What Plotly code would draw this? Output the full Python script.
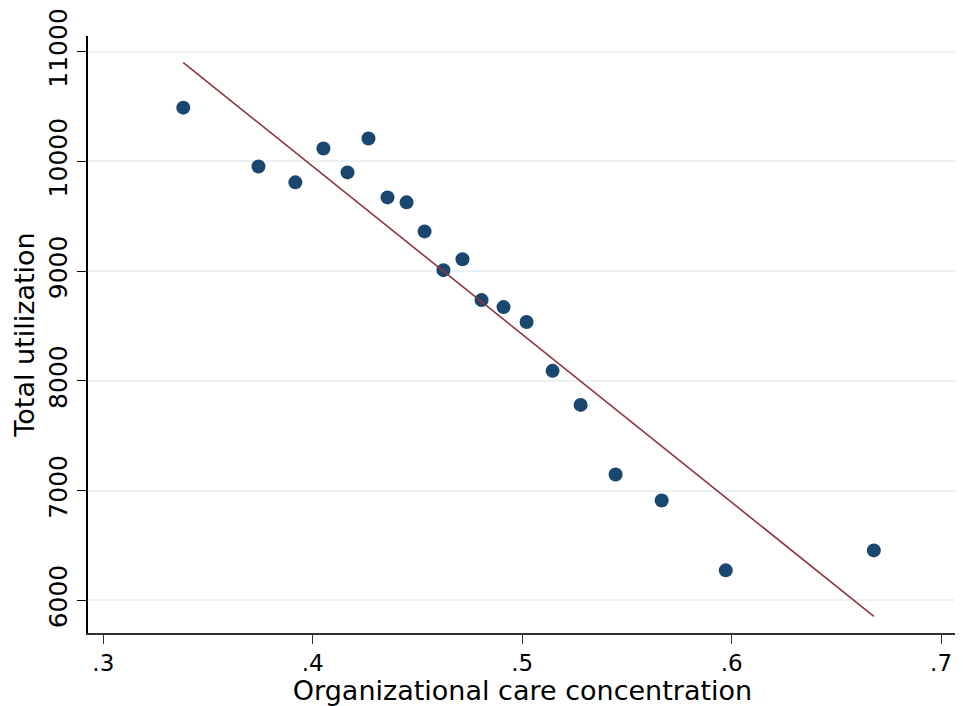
import plotly.graph_objects as go

conc = [0.3382, 0.3741, 0.3917, 0.4051, 0.4166, 0.4266, 0.4357, 0.4448, 0.4534, 0.4624,
        0.4715, 0.4806, 0.4911, 0.5021, 0.5145, 0.5279, 0.5446, 0.5666, 0.5972, 0.6679]
util = [10490, 9954, 9809, 10118, 9900, 10209, 9672, 9627, 9362, 9009,
        9109, 8736, 8672, 8536, 8091, 7781, 7146, 6909, 6273, 6455]
fit_x = [0.3382, 0.6679]
fit_y = [10900, 5854]

xticks = [0.3, 0.4, 0.5, 0.6, 0.7]
xtick_labels = [".3", ".4", ".5", ".6", ".7"]
yticks = [6000, 7000, 8000, 9000, 10000, 11000]
ytick_labels = ["6000", "7000", "8000", "9000", "10000", "11000"]

fig = go.Figure()
fig.add_trace(go.Scatter(x=conc, y=util, mode="markers",
                         marker=dict(color="#1a476f", size=14, line=dict(width=0)),
                         showlegend=False, cliponaxis=False))
fig.add_trace(go.Scatter(x=fit_x, y=fit_y, mode="lines",
                         line=dict(color="#90353b", width=1.6), showlegend=False))

fig.update_layout(
    width=955, height=698,
    margin=dict(l=80, r=6, t=28, b=73),
    paper_bgcolor="white", plot_bgcolor="white",
    font=dict(family="DejaVu Sans", color="black"),
    xaxis=dict(range=[0.2927, 0.7076], tickvals=xticks, ticktext=xtick_labels, automargin=False,
               showgrid=False, zeroline=False, showline=True, linecolor="#333333", linewidth=1.5,
               ticks="outside", ticklen=9, tickcolor="#333333", tickfont=dict(size=23),
               title=dict(text="Organizational care concentration", font=dict(size=27), standoff=0)),
    yaxis=dict(range=[5702, 11143], tickvals=yticks, ticktext=ytick_labels, tickangle=-90,
               automargin=False,
               showgrid=True, gridcolor="#eaf2f3", gridwidth=1.5, zeroline=False,
               showline=True, linecolor="black", linewidth=1.5,
               ticks="outside", ticklen=9, tickcolor="black", tickfont=dict(size=25),
               title=dict(text="Total utilization", font=dict(size=27), standoff=2)),
)

fig.write_html("out.html")
